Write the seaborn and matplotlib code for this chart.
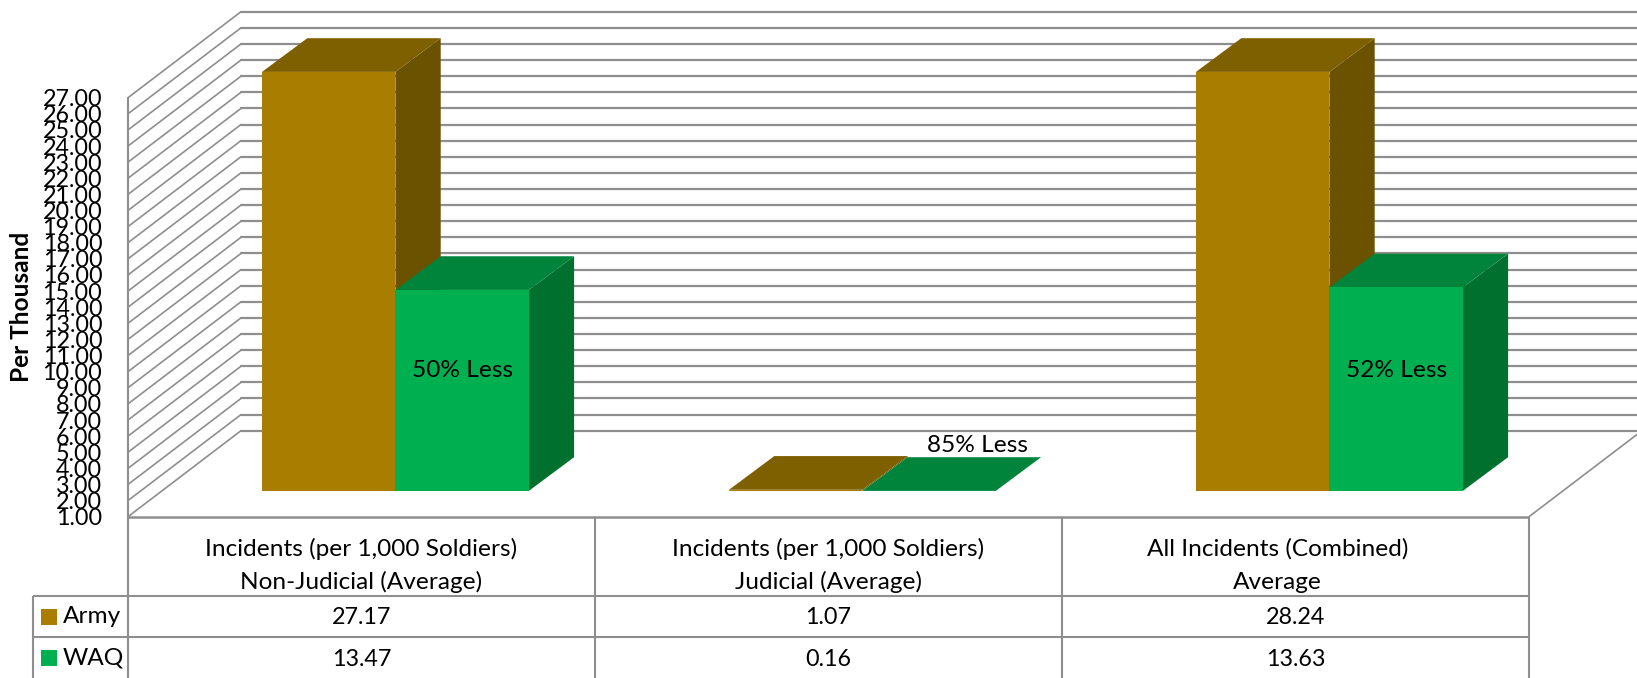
import matplotlib
matplotlib.use("Agg")
import matplotlib.pyplot as plt
from matplotlib.lines import Line2D
from matplotlib.patches import Polygon
from matplotlib.ticker import MultipleLocator, FormatStrFormatter
from matplotlib.transforms import IdentityTransform
import numpy as np
import pandas as pd
import seaborn as sns

# Chart values
categories = [
    "Incidents (per 1,000 Soldiers)\nNon-Judicial (Average)",
    "Incidents (per 1,000 Soldiers)\nJudicial (Average)",
    "All Incidents (Combined)\nAverage",
]
series_names = ["Army", "WAQ"]
army_rates = [27.17, 1.07, 28.24]
waq_rates = [13.47, 0.16, 13.63]
reduction_labels = ["50% Less", "85% Less", "52% Less"]
y_min, y_max = 1, 27

# Colours: front, top and side faces of each 3-D column
FACE = {"Army": "#A87D00", "WAQ": "#00B050"}
TOP = {"Army": "#7F6000", "WAQ": "#00843C"}
SIDE = {"Army": "#6B5200", "WAQ": "#00702F"}
LINE = "#8E8E8E"
FONT = "Lato"
TEXT_SIZE = 17.6
DIGIT_SIZE = 16.8

sns.set_theme(style="white")
plt.rcParams["font.family"] = [FONT, "DejaVu Sans"]
plt.rcParams["text.color"] = "black"

W, H = 1637, 678
fig = plt.figure(figsize=(W / 100, H / 100), dpi=100, facecolor="white")


def place(left, top, right, bottom, z):
    """Axes positioned by pixel edges, measured from the top-left corner."""
    ax = fig.add_axes([left / W, 1 - bottom / H, (right - left) / W, (bottom - top) / H], zorder=z)
    ax.patch.set_alpha(0)
    return ax


# Box geometry in pixels
FRONT_L, FRONT_R, FRONT_TOP, FRONT_BOT = 128, 1529, 97.7, 516.7
WALL_DX, WALL_DY = 113, 86          # front plane to back wall
BAR_SHIFT = 0.30                    # fraction of box depth where the columns stand
COL_DX, COL_DY = 45.3, 33.7         # column depth

# Back wall gridlines
back = place(FRONT_L + WALL_DX, FRONT_TOP - WALL_DY, FRONT_R + WALL_DX, FRONT_BOT - WALL_DY, 1)
back.set_ylim(y_min, y_max)
back.set_xlim(-0.5, 2.5)
back.yaxis.set_major_locator(MultipleLocator(1))
back.grid(axis="y", color=LINE, lw=1.6)
back.set_axisbelow(True)
for gl in back.yaxis.get_gridlines():
    gl.set_clip_on(False)
back.tick_params(left=False, labelleft=False, bottom=False, labelbottom=False)
sns.despine(ax=back, left=True, bottom=True)

# Column plane
bars = place(FRONT_L + BAR_SHIFT * WALL_DX, FRONT_TOP - BAR_SHIFT * WALL_DY,
             FRONT_R + BAR_SHIFT * WALL_DX, FRONT_BOT - BAR_SHIFT * WALL_DY, 2)
table_df = pd.DataFrame({
    "Category": categories * 2,
    "Series": [series_names[0]] * 3 + [series_names[1]] * 3,
    "Rate": army_rates + waq_rates,
})
sns.barplot(data=table_df, x="Category", y="Rate", hue="Series", order=categories,
            hue_order=series_names, palette=FACE, width=0.5713, gap=0, saturation=1,
            legend=False, linewidth=0, ax=bars)
bars.set_xlim(-0.5, 2.5)
bars.set_ylim(y_min, y_max)
bars.axis("off")

# Top and side faces, derived from each column's clipped rectangle
names = [series_names[0]] * 3 + [series_names[1]] * 3
for rect, name in zip(bars.patches, names):
    x0, x1 = rect.get_x(), rect.get_x() + rect.get_width()
    top_value = float(np.clip(rect.get_height(), y_min, y_max))
    (l, b), (r, t) = bars.transData.transform([(x0, y_min), (x1, top_value)])
    top_face = [(l, t), (r, t), (r + COL_DX, t + COL_DY), (l + COL_DX, t + COL_DY)]
    side_face = [(r, b), (r + COL_DX, b + COL_DY), (r + COL_DX, t + COL_DY), (r, t)]
    for pts, colour in ((side_face, SIDE[name]), (top_face, TOP[name])):
        bars.add_patch(Polygon(pts, closed=True, facecolor=colour, edgecolor="none",
                               transform=IdentityTransform(), clip_on=False, zorder=0.5))

# Reduction callouts on the WAQ columns
bar_step = 0.5713 / 4
callout = dict(ha="center", va="center", fontsize=TEXT_SIZE, zorder=5)
bars.text(0 + bar_step, 8.5, reduction_labels[0], **callout)
bars.text(2 + bar_step, 8.5, reduction_labels[2], **callout)
bars.text(1 + bar_step + 0.103, 3.8, reduction_labels[1], **callout)

# Front plane: value axis and left wall
front = place(FRONT_L, FRONT_TOP, FRONT_R, FRONT_BOT, 3)
front.set_xlim(-0.5, 2.5)
front.set_ylim(y_min, y_max)
front.yaxis.set_major_locator(MultipleLocator(1))
front.yaxis.set_major_formatter(FormatStrFormatter("%.2f"))
front.tick_params(axis="y", length=0, pad=18.5, labelsize=DIGIT_SIZE, labelcolor="black")
front.tick_params(axis="x", bottom=False, labelbottom=False)
front.set_ylabel("Per Thousand", fontsize=TEXT_SIZE, fontweight="bold", color="black")
front.yaxis.set_label_coords((33 - FRONT_L) / (FRONT_R - FRONT_L), 0.5)
sns.despine(ax=front, top=True, right=True, left=True, bottom=True)

tick_values = np.arange(y_min, y_max + 1)
corner_x, corner_y = front.transData.transform((-0.5, y_min))
for value in tick_values:
    x, y = front.transData.transform((-0.5, value))
    front.add_line(Line2D([x, x + WALL_DX], [y, y + WALL_DY], color=LINE, lw=1.2,
                          transform=IdentityTransform(), clip_on=False))
right_x, _ = front.transData.transform((2.5, y_min))
front.add_line(Line2D([right_x, right_x + WALL_DX], [corner_y, corner_y + WALL_DY], color=LINE,
                      lw=1.2, transform=IdentityTransform(), clip_on=False))
front.add_line(Line2D([corner_x, corner_x], [corner_y, front.transData.transform((-0.5, y_max))[1]],
                      color=LINE, lw=1.5, transform=IdentityTransform(), clip_on=False))

# Data table below the floor, y measured in pixels from the floor's front edge
table = place(FRONT_L, FRONT_BOT, FRONT_R, H, 4)
table.set_xlim(-0.5, 2.5)
table.set_ylim(H - FRONT_BOT, 0)
table.axis("off")
HEAD_H, ROW_H = 79, 41.6
col_edges = np.arange(-0.5, 3.0)
px = 3.0 / (FRONT_R - FRONT_L)      # x data units per pixel
table_left = -0.5 - 95 * px
table.hlines(0, -0.5, 2.5, color=LINE, lw=1.8, clip_on=False)
table.vlines(col_edges, 0, H - FRONT_BOT, color=LINE, lw=1.5, clip_on=False)
table.vlines(table_left, HEAD_H, H - FRONT_BOT, color=LINE, lw=1.5, clip_on=False)
for row in range(2):
    table.hlines(HEAD_H + row * ROW_H, table_left, 2.5, color=LINE, lw=1.5, clip_on=False)

header_nudge = [0, 0, -18 * px]
for i, label in enumerate(categories):
    first, second = label.split("\n")
    table.text(i + header_nudge[i], 32, first, ha="center", va="center", fontsize=TEXT_SIZE)
    table.text(i + header_nudge[i], 65.5, second, ha="center", va="center", fontsize=TEXT_SIZE)

for row, (name, rates) in enumerate(zip(series_names, [army_rates, waq_rates])):
    cy = HEAD_H + (row + 0.5) * ROW_H
    table.scatter([-0.5 - 78.5 * px], [cy], marker="s", s=117, color=FACE[name], linewidths=0, clip_on=False)
    table.text(-0.5 - 65 * px, cy, name, ha="left", va="center", fontsize=TEXT_SIZE, clip_on=False)
    for i, rate in enumerate(rates):
        table.text(i, cy + 1, f"{rate:.2f}", ha="center", va="center", fontsize=DIGIT_SIZE)

fig.savefig("out.png", dpi=100, facecolor="white")
